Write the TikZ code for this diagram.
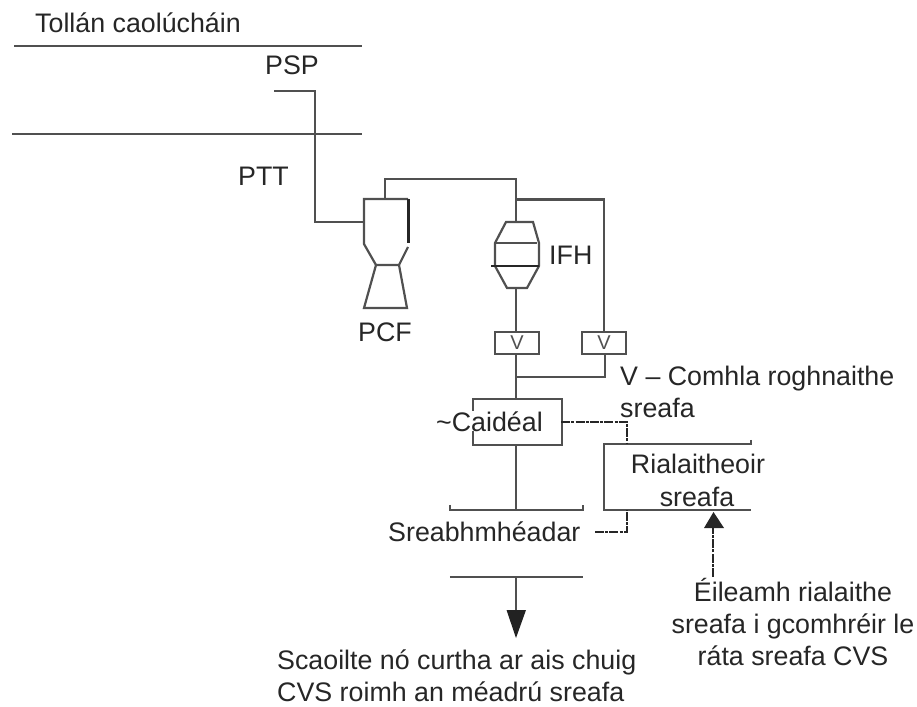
\documentclass[tikz,border=0pt]{standalone}
\usepackage{fontspec}
\setmainfont{Liberation Sans}
\usetikzlibrary{arrows.meta}
\definecolor{pipe}{HTML}{505050}
\definecolor{ink}{HTML}{262626}
\tikzset{
  pipeline/.style={draw=pipe,line width=2.2pt,line cap=butt,line join=miter},
  thick pipeline/.style={draw=ink,line width=3pt},
  signal/.style={draw=ink,line width=2.6pt,dash pattern=on 9pt off 1.2pt on 3pt off 1.2pt},
  lbl/.style={text=ink,font=\fontsize{26.8}{30}\selectfont,inner sep=0pt},
  lblw/.style={lbl,anchor=base west},
  lblc/.style={lbl,anchor=base},
  valvebox/.style={pipeline,minimum width=44pt,minimum height=22pt,inner sep=0pt,text=pipe,
    font=\fontsize{20}{20}\selectfont}
}
\begin{document}
\begin{tikzpicture}[x=1pt,y=-1pt]
\useasboundingbox (0,0) rectangle (917,706);
% named points
\coordinate (tunTopL) at (14,46);   \coordinate (tunTopR) at (362,46);
\coordinate (tunBotL) at (12,134);  \coordinate (tunBotR) at (362,134);
\coordinate (pspEnd) at (274,91);
\coordinate (pcfIn) at (364,222);
\coordinate (pcfTop) at (385,199);
\coordinate (ifhTop) at (516,222);
\coordinate (ifhBot) at (516,288);
\coordinate (tee) at (516,199.5);
\coordinate (tee2) at (516,377);
\node[valvebox,draw] (v1) at (517,343) {V};
\node[valvebox,draw] (v2) at (604,343) {V};
\node[draw=pipe,line width=2.2pt,minimum width=89pt,minimum height=46pt,inner sep=0pt] (pump) at (517.5,422) {};
\node[minimum width=133pt,minimum height=67pt,inner sep=0pt] (fm) at (516.5,543.5) {};
\node[minimum width=147pt,minimum height=66pt,inner sep=0pt] (ctl) at (677.5,477) {};
\coordinate (fmSig) at (595,532);
\coordinate (dem) at (713,577);
% tunnel
\draw[pipeline] (tunTopL) -- (tunTopR);
\draw[pipeline] (tunBotL) -- (tunBotR);
% pipes
\draw[pipeline] (pspEnd) -| (315,222) -- (pcfIn);
\draw[pipeline] (pcfTop) |- (516,179) -- (ifhTop);
\draw[pipeline] (tee) -| (v2.north);
\draw[pipeline] (ifhBot) -- (516,332);
\draw[pipeline] (516,354) -- (516,399);
\draw[pipeline] (tee2) -| (605,354);
\draw[pipeline] (516,445) -- (516,510);
% PCF
\draw[pipeline] (408,199) -- (364,199) -- (364,244) -- (376,265) -- (399,265) -- (408,247);
\draw[pipeline] (376,265) -- (364,308) -- (407,308) -- (399,265);
\draw[thick pipeline] (408,199) -- (408,243);
% IFH
\draw[pipeline] (495,243) -- (506,222) -- (533,222) -- (539,243) -- (539,266) -- (527,288) -- (507,288) -- (495,266) -- cycle;
\draw[pipeline] (495,243) -- (537,243);
\draw[pipeline,draw=ink] (491,266) -- (539,266);
% flow meter
\draw[pipeline] ([yshift=5pt]fm.north west) -- (fm.north west) -- (fm.north east) -- ([yshift=5pt]fm.north east);
\draw[pipeline] (fm.south west) -- (fm.south east);
% arrow out
\draw[pipeline] (516,577) -- (516,612);
\fill[ink!90!black] (506.5,610) -- (526,610) -- (516,638) -- cycle;
% controller
\draw[pipeline] ([yshift=4pt]ctl.north east) -- (ctl.north east) -- (ctl.north west) -- (ctl.south west) -- (ctl.south east);
% signals
\draw[signal] (pump.east) ++(-2,0) -| (627,444);
\draw[signal] (fmSig) -| (627,510);
\draw[signal] (dem) -- (713,526);
\fill[ink] (713.5,512) -- (724,528) -- (704,528) -- cycle;
% labels
\node[lblw] (tTitle) at (35,33) {Tollán caolúcháin};
\node[lblw] (tPSP) at (265,75) {PSP};
\node[lblw] (tPTT) at (238,185) {PTT};
\node[lblw] (tPCF) at (358,341) {PCF};
\node[lblw] (tIFH) at (549,264) {IFH};
\node[lblw] (tV) at (620,385) {V – Comhla roghnaithe};
\node[lblw] (tV2) at (620,417) {sreafa};
\node[lblw,fill=white] (tPump) at (436,431) {\textasciitilde Caidéal};
\node[lblc] (tCtl1) at (698,473) {Rialaitheoir};
\node[lblc] (tCtl2) at (697,506) {sreafa};
\node[lblw] (tFM) at (388,541) {Sreabhmhéadar};
\node[lblc] (tD1) at (793,601) {Éileamh rialaithe};
\node[lblc] (tD2) at (793,633) {sreafa i gcomhréir le};
\node[lblc] (tD3) at (793,665) {ráta sreafa CVS};
\node[lblw] (tOut1) at (277,669) {Scaoilte nó curtha ar ais chuig};
\node[lblw] (tOut2) at (277,701) {CVS roimh an méadrú sreafa};
\end{tikzpicture}
\end{document}
